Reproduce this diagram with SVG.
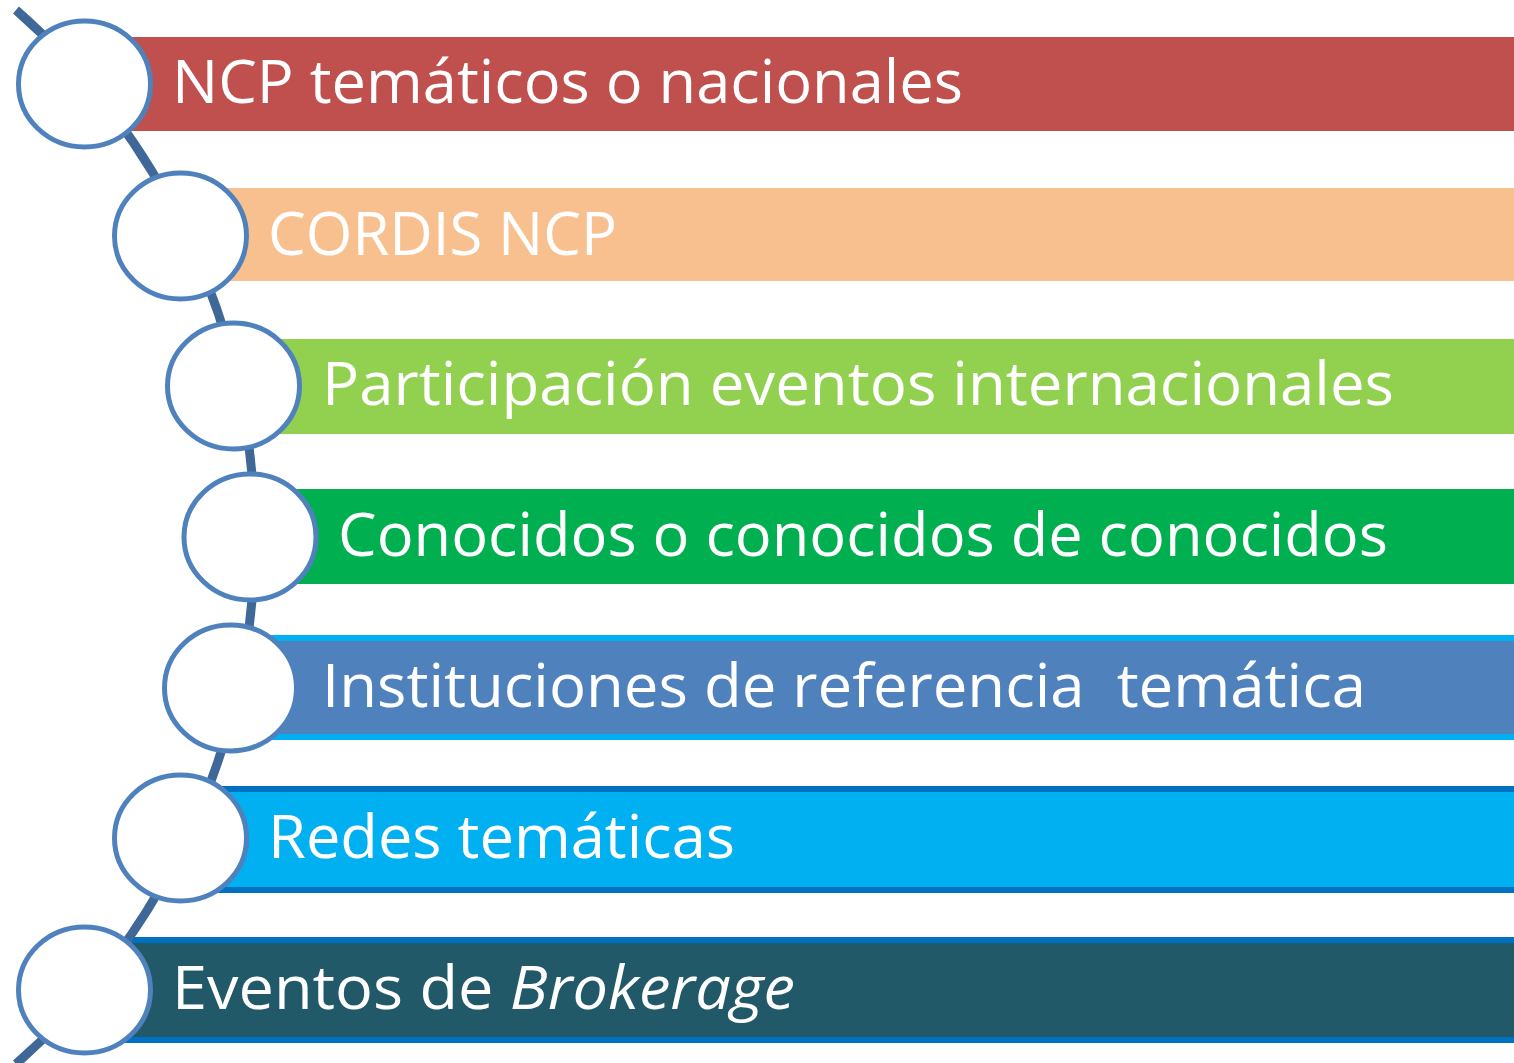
<svg xmlns="http://www.w3.org/2000/svg" width="1514" height="1063" viewBox="0 0 1514 1063">
  <style>
    .lbl { font-family: "Open Sans", "Liberation Sans", sans-serif; font-size: 60px; fill: #FFFFFF; }
    .ring { fill: #FFFFFF; stroke: #4F81BD; stroke-width: 5; }
    .spine { fill: none; stroke: #3F6797; stroke-width: 9; }
  </style>
  <rect width="1514" height="1063" fill="#FFFFFF"/>
  <g id="bars">
    <g id="bar1"><rect x="120" y="37" width="1400" height="94" fill="#C0504D"/></g>
    <g id="bar2"><rect x="215" y="188" width="1305" height="93" fill="#F9C08F"/></g>
    <g id="bar3"><rect x="268" y="339" width="1252" height="95" fill="#92D050"/></g>
    <g id="bar4"><rect x="285" y="489" width="1235" height="95" fill="#00B050"/></g>
    <g id="bar5"><rect x="265" y="638" width="1260" height="99" fill="#4F81BD" stroke="#00B0F0" stroke-width="6"/></g>
    <g id="bar6"><rect x="215" y="789" width="1310" height="101" fill="#00B0F0" stroke="#0070C0" stroke-width="6"/></g>
    <g id="bar7"><rect x="120" y="940" width="1400" height="100" fill="#215968" stroke="#0070C0" stroke-width="6"/></g>
  </g>
  <g id="connectors">
    <path class="spine" d="M 16 10 A 701 701 0 0 1 16 1064"/>
  </g>
  <g id="nodes">
    <g id="node1"><ellipse class="ring" cx="84.5" cy="84" rx="66" ry="63"/><text class="lbl" x="172" y="103" textLength="791" lengthAdjust="spacingAndGlyphs">NCP temáticos o nacionales</text></g>
    <g id="node2"><ellipse class="ring" cx="180.5" cy="236" rx="66" ry="63"/><text class="lbl" x="268" y="255" textLength="349" lengthAdjust="spacingAndGlyphs">CORDIS NCP</text></g>
    <g id="node3"><ellipse class="ring" cx="233.5" cy="386" rx="66" ry="63"/><text class="lbl" x="322" y="405" textLength="1072" lengthAdjust="spacingAndGlyphs">Participación eventos internacionales</text></g>
    <g id="node4"><ellipse class="ring" cx="250" cy="537" rx="66" ry="63"/><text class="lbl" x="338" y="556" textLength="1050" lengthAdjust="spacingAndGlyphs">Conocidos o conocidos de conocidos</text></g>
    <g id="node5"><ellipse class="ring" cx="230.5" cy="688" rx="66" ry="63"/><text class="lbl" x="322" y="707" textLength="1044" lengthAdjust="spacingAndGlyphs" xml:space="preserve">Instituciones de referencia  temática</text></g>
    <g id="node6"><ellipse class="ring" cx="180.5" cy="838" rx="66" ry="63"/><text class="lbl" x="268" y="858" textLength="467" lengthAdjust="spacingAndGlyphs">Redes temáticas</text></g>
    <g id="node7"><ellipse class="ring" cx="84.5" cy="990" rx="66" ry="63"/><text class="lbl" x="172" y="1009" textLength="623" lengthAdjust="spacingAndGlyphs">Eventos de <tspan font-style="italic">Brokerage</tspan></text></g>
  </g>
</svg>
